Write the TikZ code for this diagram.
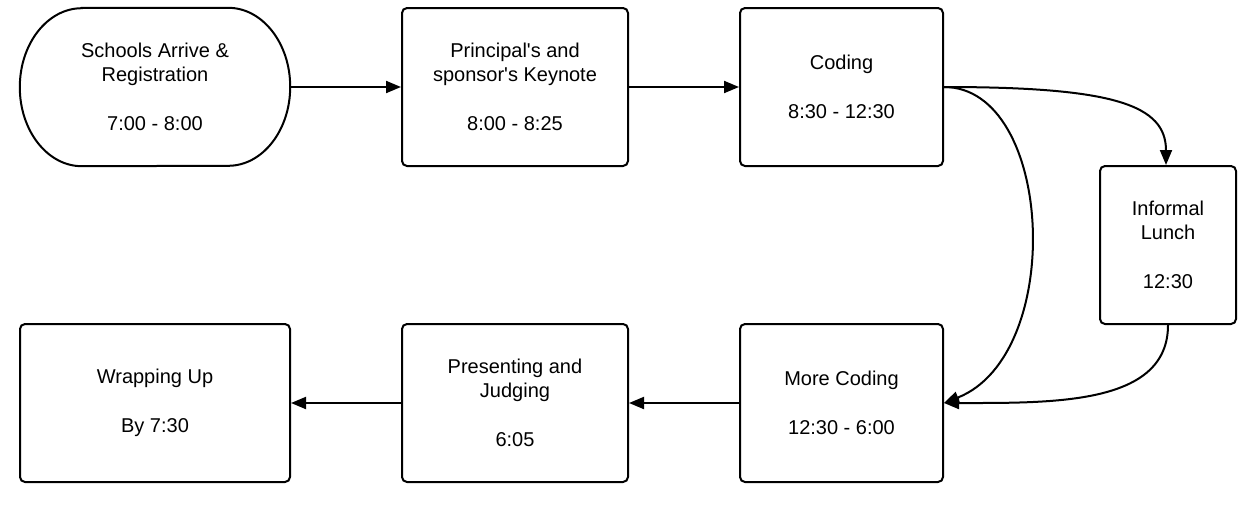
\documentclass[tikz,border=0pt]{standalone}
\usepackage{fontspec}
\setmainfont{Liberation Sans}
\usetikzlibrary{arrows.meta}
\begin{document}
\begin{tikzpicture}[x=1pt,y=1pt,
  txt/.style={align=center,font=\fontsize{20}{24.5}\selectfont,inner sep=0pt},
  stepbox/.style={txt,draw,line width=2pt,rounded corners=5pt},
  conn/.style={line width=2pt,-{Triangle[length=15pt,width=12pt]}}]
\useasboundingbox (0,0) rectangle (1252,-509);
% nodes
\node[txt,minimum width=270,minimum height=158] (s) at (155,-87) {Schools Arrive \&\\Registration\\[24.5pt]7:00 - 8:00};
\draw[line width=2pt] ([xshift=62pt]s.north west) -- ([xshift=-62pt]s.north east)
  arc[start angle=90,end angle=-90,x radius=62pt,y radius=79pt]
  -- ([xshift=62pt]s.south west)
  arc[start angle=270,end angle=90,x radius=62pt,y radius=79pt] -- cycle;
\node[stepbox,minimum width=226,minimum height=158] (p) at (515,-87) {Principal\textquotesingle s and\\sponsor\textquotesingle s Keynote\\[24.5pt]8:00 - 8:25};
\node[stepbox,minimum width=203,minimum height=158] (c) at (841.5,-87) {Coding\\[24.5pt]8:30 - 12:30};
\node[stepbox,minimum width=136,minimum height=158] (l) at (1168,-245) {Informal\\Lunch\\[24.5pt]12:30};
\node[stepbox,minimum width=203,minimum height=158] (m) at (841.5,-403) {More Coding\\[24.5pt]12:30 - 6:00};
\node[stepbox,minimum width=226,minimum height=158] (pj) at (515,-403) {Presenting and\\Judging\\[24.5pt]6:05};
\node[stepbox,minimum width=270,minimum height=158] (w) at (155,-403) {Wrapping Up\\[24.5pt]By 7:30};
% connectors
\draw[conn] (s.east) -- (p.west);
\draw[conn] (p.east) -- (c.west);
\draw[conn] (c.east) .. controls +(170,0) and +(0,60) .. ([xshift=-2pt]l.north);
\draw[conn] (c.east) .. controls +(110,0) and +(122,48) .. (m.east);
\draw[conn] (l.south) .. controls +(0,-80) and +(110,0) .. (m.east);
\draw[conn] (m.west) -- (pj.east);
\draw[conn] (pj.west) -- (w.east);
\end{tikzpicture}
\end{document}
